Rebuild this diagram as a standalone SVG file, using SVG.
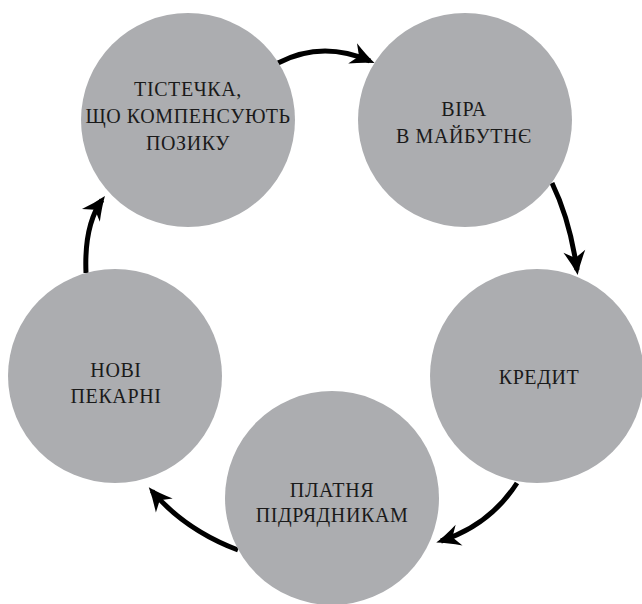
<svg xmlns="http://www.w3.org/2000/svg" width="642" height="604" viewBox="0 0 642 604">
<style>
.n{fill:#acadb0}
.t{font-family:'Liberation Serif','Times New Roman',serif;font-size:20px;letter-spacing:0.6px;fill:#1a1a1a;text-anchor:middle}
.c{fill:none;stroke:#000;stroke-width:5;stroke-linecap:butt}
</style>
<defs>
<marker id="ah" markerUnits="userSpaceOnUse" markerWidth="26" markerHeight="24" viewBox="0 0 26 24" refX="21" refY="12" orient="auto">
<path d="M26,12 Q15,8 2,1 L9,12 L2,23 Q15,16 26,12 Z" fill="#000"/>
</marker>
</defs>
<rect width="642" height="604" fill="#fff"/>
<g id="connectors">
<path class="c" d="M278,63 Q322,40 370,61" marker-end="url(#ah)"/>
<path class="c" d="M552,183 Q570,220 577,270" marker-end="url(#ah)"/>
<path class="c" d="M517,483 Q490,525 441,541" marker-end="url(#ah)"/>
<path class="c" d="M238,550 Q185,530 152,491" marker-end="url(#ah)"/>
<path class="c" d="M86,273 Q84,225 102,200" marker-end="url(#ah)"/>
</g>
<g id="node-tistechka">
<circle class="n" cx="188" cy="120" r="107"/>
<text class="t" x="188" y="96">ТІСТЕЧКА,</text>
<text class="t" x="188" y="123">ЩО КОМПЕНСУЮТЬ</text>
<text class="t" x="188" y="150">ПОЗИКУ</text>
</g>
<g id="node-vira">
<circle class="n" cx="465" cy="120" r="107"/>
<text class="t" x="464" y="116">ВІРА</text>
<text class="t" x="464" y="143">В МАЙБУТНЄ</text>
</g>
<g id="node-kredyt">
<circle class="n" cx="537" cy="376" r="107"/>
<text class="t" x="539" y="384">КРЕДИТ</text>
</g>
<g id="node-platnia">
<circle class="n" cx="332" cy="498" r="107"/>
<text class="t" x="332" y="497">ПЛАТНЯ</text>
<text class="t" x="332" y="522">ПІДРЯДНИКАМ</text>
</g>
<g id="node-novi">
<circle class="n" cx="115" cy="376" r="107"/>
<text class="t" x="116" y="377">НОВІ</text>
<text class="t" x="116" y="403">ПЕКАРНІ</text>
</g>
</svg>
